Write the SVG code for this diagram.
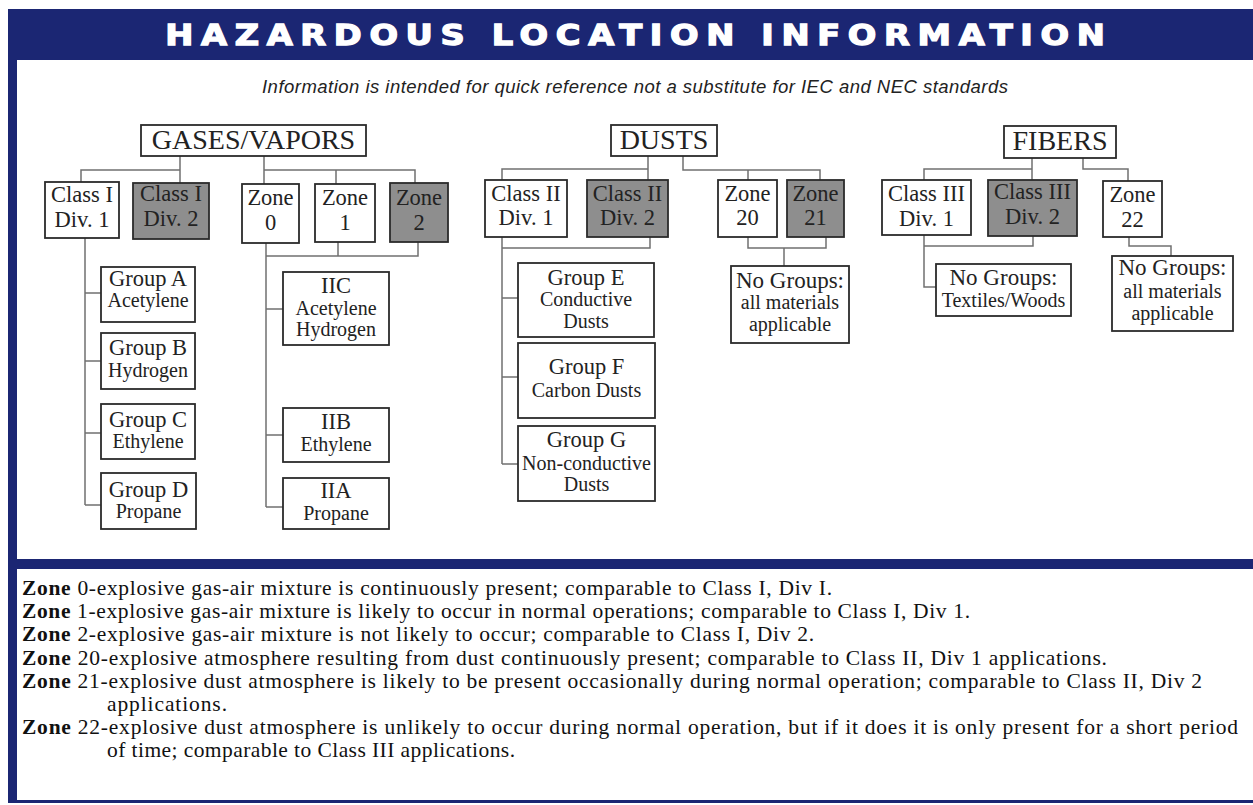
<svg xmlns="http://www.w3.org/2000/svg" width="1253" height="805" viewBox="0 0 1253 805">
<style>
.frame{fill:#1b2673}
.box{fill:#fff;stroke:#2b2b2b;stroke-width:1.8}
.gray{fill:#8e8e8e;stroke:#2b2b2b;stroke-width:1.8}
.con path{fill:none;stroke:#707070;stroke-width:1.5}
text{font-family:"Liberation Serif","Times New Roman",serif;fill:#222;text-anchor:middle}
.h{font-size:28px}
.m{font-size:22.5px}
.s{font-size:20px}
.ng{font-size:23px}
.title{font-family:"DejaVu Sans","Liberation Sans",sans-serif;font-weight:bold;font-size:28px;fill:#fff;stroke:#fff;stroke-width:1.3}
.sub{font-family:"Liberation Sans",Arial,sans-serif;font-style:italic;font-size:18.5px;fill:#222}
.note{font-size:21.5px;text-anchor:start;fill:#111}
.note tspan.b{font-weight:bold}
</style>
<rect width="1253" height="805" fill="#fff"/>
<g id="frame">
<rect class="frame" x="8" y="9" width="1245" height="51"/>
<rect class="frame" x="8" y="9" width="9" height="794"/>
<rect class="frame" x="8" y="559" width="1245" height="10"/>
<rect class="frame" x="8" y="800" width="1245" height="3"/>
<text class="title" transform="translate(635,45) scale(1.2,1)" x="0" y="0" textLength="783" lengthAdjust="spacing">HAZARDOUS LOCATION INFORMATION</text>
<text class="sub" x="635" y="93" textLength="746" lengthAdjust="spacing">Information is intended for quick reference not a substitute for IEC and NEC standards</text>
</g>
<g id="connectors" class="con">
<path d="M180,156 V183 M180,170 H81 V182"/>
<path d="M264,156 V184 M264,170 H415 V183 M336,170 V184"/>
<path d="M85,238 V505 M85,293 H101 M85,361 H101 M85,433 H101 M85,505 H101"/>
<path d="M266,243 V507 M266,256 H418 V242 M338,242 V256 M266,309 H283 M266,435 H283 M266,507 H283"/>
<path d="M648,156 V180 M648,169 H502 V180"/>
<path d="M683,156 V170 H820 V180 M748,170 V180"/>
<path d="M502,237 V464 M502,248 H650 V237 M502,298 H518 M502,377 H518 M502,464 H518"/>
<path d="M748,237 V248 H826 V237 M784,248 V266"/>
<path d="M1032,158 V180 M1032,169 H924 V180"/>
<path d="M1083,158 V169 H1128 V181"/>
<path d="M924,235 V287 H936 M924,246 H1033 V236"/>
<path d="M1129,237 V246 H1171 V256"/>
</g>
<g id="gases">
<rect class="box" x="141" y="125" width="225" height="31"/>
<text class="h" x="253.5" y="149">GASES/VAPORS</text>
</g>
<g id="class1div1"><rect class="box" x="45" y="182" width="74" height="56"/><text class="m" x="82" y="202">Class I</text><text class="m" x="82" y="227">Div. 1</text></g>
<g id="class1div2"><rect class="gray" x="133" y="183" width="76" height="56"/><text class="m" x="171" y="201">Class I</text><text class="m" x="171" y="226">Div. 2</text></g>
<g id="zone0"><rect class="box" x="242" y="184" width="57" height="59"/><text class="m" x="270.5" y="205">Zone</text><text class="m" x="270.5" y="230">0</text></g>
<g id="zone1"><rect class="box" x="315" y="184" width="60" height="58"/><text class="m" x="345" y="205">Zone</text><text class="m" x="345" y="230">1</text></g>
<g id="zone2"><rect class="gray" x="390" y="183" width="58" height="59"/><text class="m" x="419" y="205">Zone</text><text class="m" x="419" y="230">2</text></g>
<g id="groupA"><rect class="box" x="101" y="267" width="94" height="55"/><text class="m" x="148" y="286">Group A</text><text class="s" x="148" y="307">Acetylene</text></g>
<g id="groupB"><rect class="box" x="101" y="333" width="94" height="56"/><text class="m" x="148" y="355">Group B</text><text class="s" x="148" y="377">Hydrogen</text></g>
<g id="groupC"><rect class="box" x="101" y="404" width="94" height="55"/><text class="m" x="148" y="427">Group C</text><text class="s" x="148" y="448">Ethylene</text></g>
<g id="groupD"><rect class="box" x="101" y="473" width="95" height="56"/><text class="m" x="148.5" y="497">Group D</text><text class="s" x="148.5" y="518">Propane</text></g>
<g id="iic"><rect class="box" x="283" y="272" width="106" height="73"/><text class="m" x="336" y="293">IIC</text><text class="s" x="336" y="315">Acetylene</text><text class="s" x="336" y="336">Hydrogen</text></g>
<g id="iib"><rect class="box" x="283" y="408" width="106" height="54"/><text class="m" x="336" y="429">IIB</text><text class="s" x="336" y="451">Ethylene</text></g>
<g id="iia"><rect class="box" x="283" y="478" width="106" height="51"/><text class="m" x="336" y="498">IIA</text><text class="s" x="336" y="520">Propane</text></g>
<g id="dusts">
<rect class="box" x="611" y="125" width="106" height="31"/>
<text class="h" x="664" y="149">DUSTS</text>
</g>
<g id="class2div1"><rect class="box" x="485" y="180" width="82" height="57"/><text class="m" x="526" y="201">Class II</text><text class="m" x="526" y="225">Div. 1</text></g>
<g id="class2div2"><rect class="gray" x="587" y="180" width="81" height="57"/><text class="m" x="627.5" y="201">Class II</text><text class="m" x="627.5" y="225">Div. 2</text></g>
<g id="zone20"><rect class="box" x="718" y="180" width="59" height="57"/><text class="m" x="747.5" y="201">Zone</text><text class="m" x="747.5" y="225">20</text></g>
<g id="zone21"><rect class="gray" x="787" y="180" width="57" height="57"/><text class="m" x="815.5" y="201">Zone</text><text class="m" x="815.5" y="225">21</text></g>
<g id="nogroups-dust"><rect class="box" x="731" y="266" width="118" height="77"/><text class="ng" x="790" y="288">No Groups:</text><text class="s" x="790" y="309">all materials</text><text class="s" x="790" y="331">applicable</text></g>
<g id="groupE"><rect class="box" x="518" y="263" width="136" height="74"/><text class="m" x="586" y="285">Group E</text><text class="s" x="586" y="306">Conductive</text><text class="s" x="586" y="328">Dusts</text></g>
<g id="groupF"><rect class="box" x="518" y="343" width="137" height="75"/><text class="m" x="586.5" y="374">Group F</text><text class="s" x="586.5" y="397">Carbon Dusts</text></g>
<g id="groupG"><rect class="box" x="518" y="426" width="137" height="75"/><text class="m" x="586.5" y="447">Group G</text><text class="s" x="586.5" y="470">Non-conductive</text><text class="s" x="586.5" y="491">Dusts</text></g>
<g id="fibers">
<rect class="box" x="1004" y="126" width="112" height="32"/>
<text class="h" x="1060" y="150">FIBERS</text>
</g>
<g id="class3div1"><rect class="box" x="882" y="180" width="89" height="55"/><text class="m" x="926.5" y="201">Class III</text><text class="m" x="926.5" y="226">Div. 1</text></g>
<g id="class3div2"><rect class="gray" x="988" y="180" width="89" height="56"/><text class="m" x="1032.5" y="199">Class III</text><text class="m" x="1032.5" y="224">Div. 2</text></g>
<g id="zone22"><rect class="box" x="1103" y="181" width="59" height="56"/><text class="m" x="1132.5" y="202">Zone</text><text class="m" x="1132.5" y="227">22</text></g>
<g id="nogroups-fiber"><rect class="box" x="936" y="264" width="135" height="52"/><text class="ng" x="1003.5" y="285">No Groups:</text><text class="s" x="1003.5" y="307">Textiles/Woods</text></g>
<g id="nogroups-zone22"><rect class="box" x="1112" y="256" width="121" height="75"/><text class="ng" x="1172.5" y="275">No Groups:</text><text class="s" x="1172.5" y="298">all materials</text><text class="s" x="1172.5" y="320">applicable</text></g>
<g id="notes">
<text class="note" x="22" y="595" textLength="810" lengthAdjust="spacing"><tspan class="b">Zone</tspan> 0-explosive gas-air mixture is continuously present; comparable to Class I, Div I.</text>
<text class="note" x="22" y="618" textLength="948" lengthAdjust="spacing"><tspan class="b">Zone</tspan> 1-explosive gas-air mixture is likely to occur in normal operations; comparable to Class I, Div 1.</text>
<text class="note" x="22" y="641" textLength="792" lengthAdjust="spacing"><tspan class="b">Zone</tspan> 2-explosive gas-air mixture is not likely to occur; comparable to Class I, Div 2.</text>
<text class="note" x="22" y="665" textLength="1085" lengthAdjust="spacing"><tspan class="b">Zone</tspan> 20-explosive atmosphere resulting from dust continuously present; comparable to Class II, Div 1 applications.</text>
<text class="note" x="22" y="688" textLength="1180" lengthAdjust="spacing"><tspan class="b">Zone</tspan> 21-explosive dust atmosphere is likely to be present occasionally during normal operation; comparable to Class II, Div 2</text>
<text class="note" x="107" y="711" textLength="120" lengthAdjust="spacing">applications.</text>
<text class="note" x="22" y="734" textLength="1216" lengthAdjust="spacing"><tspan class="b">Zone</tspan> 22-explosive dust atmosphere is unlikely to occur during normal operation, but if it does it is only present for a short period</text>
<text class="note" x="107" y="757" textLength="408" lengthAdjust="spacing">of time; comparable to Class III applications.</text>
</g>
</svg>
